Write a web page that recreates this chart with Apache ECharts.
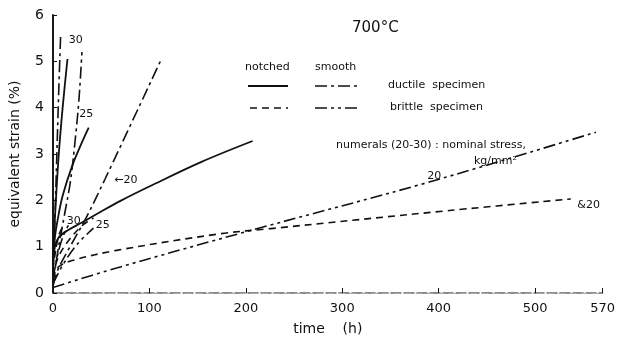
<!DOCTYPE html>
<html>
<head>
<meta charset="utf-8">
<script src="https://cdn.jsdelivr.net/npm/echarts@6/dist/echarts.min.js"></script>
<style>
  html, body { margin: 0; padding: 0; background: #fff; }
  #chart { width: 618px; height: 341px; }
</style>
</head>
<body>
<div id="chart"></div>
<script>
// creep curves at 700°C, [time h, strain %]
const notched20 = [[0, 0.55], [2, 1.0], [6, 1.2], [15, 1.35], [30, 1.52], [50, 1.76], [71, 2.0], [102, 2.32], [154, 2.83], [207, 3.28]];
const notched25 = [[0, 0.6], [2, 1.2], [5, 1.6], [10, 2.1], [20, 2.75], [30, 3.25], [37, 3.57]];
const notched30 = [[0, 0.7], [1, 1.2], [3, 2.0], [6, 3.0], [10, 4.0], [15, 5.05]];
const smooth20 = [[0, 0.15], [5, 0.5], [15, 0.9], [35, 1.65], [54, 2.46], [112, 5.03]];
const smooth25 = [[0, 0.2], [5, 0.9], [12, 1.7], [18, 2.4], [23, 3.3], [27, 4.2], [30, 5.2]];
const smooth30 = [[0, 0.3], [2, 1.6], [4, 3.0], [6, 4.4], [8, 5.6]];
const brittleNotched20 = [[0, 0.3], [5, 0.55], [20, 0.7], [66, 0.92], [174, 1.28], [226, 1.39], [411, 1.78], [537, 2.03]];
const brittleNotched25 = [[0, 0.35], [5, 0.75], [15, 1.1], [30, 1.45], [42, 1.62]];
const brittleNotched30 = [[0, 0.5], [3, 0.95], [7, 1.3], [12, 1.5]];
const brittleSmooth20 = [[0, 0.12], [66, 0.54], [205, 1.35], [391, 2.4], [563, 3.47]];
const brittleSmooth25 = [[0, 0.2], [10, 0.6], [25, 1.05], [42, 1.4]];
const brittleSmooth30 = [[0, 0.3], [4, 0.75], [10, 1.2], [17, 1.5]];

// stress numerals written next to the curves: [time, strain, text]
const stressNotes = [[24, 5.45, '30'], [35, 3.85, '25'], [76, 2.42, '←20'], [22, 1.55, '30'], [52, 1.45, '25'], [396, 2.52, '20'], [556, 1.88, '&20']];

const xTicks = [0, 100, 200, 300, 400, 500, 570];

const myChart = echarts.init(document.getElementById('chart'));

const FONT = 'DejaVu Sans';
const INK = '#111';

const styles = {
  ductileNotched: { type: 'solid', width: 1.8 },
  ductileSmooth: { type: [12, 4, 3, 4], width: 1.6 },
  brittleNotched: { type: [7, 5], width: 1.6 },
  brittleSmooth: { type: [12, 4, 3, 4, 3, 4], width: 1.6 },
};

function curve(name, data, style) {
  return {
    name: name,
    type: 'line',
    data: data,
    showSymbol: false,
    smooth: 0.35,
    silent: true,
    lineStyle: { color: INK, width: style.width, type: style.type },
  };
}

const option = {
  animation: false,
  grid: { left: 51, right: 14, top: 15, bottom: 46 },
  xAxis: [
    {
      type: 'value',
      min: 0,
      max: 570,
      interval: 100,
      axisLine: { lineStyle: { color: '#666', width: 1.5, type: [10, 3] } },
      axisTick: { inside: true, length: 5, lineStyle: { color: INK } },
      axisLabel: {
        color: INK,
        fontFamily: FONT,
        fontSize: 13,
        margin: 9,
        customValues: xTicks,
      },
      splitLine: { show: false },
      name: 'time    (h)',
      nameLocation: 'middle',
      nameGap: 29,
      nameTextStyle: { color: INK, fontFamily: FONT, fontSize: 14 },
    },
    {
      type: 'value',
      position: 'top',
      min: 0,
      max: 570,
      axisLine: { lineStyle: { color: '#aaa', width: 1.2, type: [6, 5] } },
      axisTick: { show: false },
      axisLabel: { show: false },
      splitLine: { show: false },
    },
  ],
  yAxis: [
    {
      type: 'value',
      min: 0,
      max: 6,
      interval: 1,
      axisLine: { show: true, lineStyle: { color: INK, width: 1.6 } },
      axisTick: { inside: true, length: 4, lineStyle: { color: INK } },
      axisLabel: { color: INK, fontFamily: FONT, fontSize: 14, margin: 9 },
      splitLine: { show: false },
      name: 'equivalent strain (%)',
      nameLocation: 'middle',
      nameGap: 31,
      nameTextStyle: { color: INK, fontFamily: FONT, fontSize: 14 },
    },
    {
      type: 'value',
      position: 'right',
      min: 0,
      max: 6,
      axisLine: { show: true, lineStyle: { color: INK, width: 1.6 } },
      axisTick: { show: false },
      axisLabel: { show: false },
      splitLine: { show: false },
    },
  ],
  graphic: [
    {
      type: 'text',
      left: 352,
      top: 21,
      style: { text: '700°C', font: '15px "DejaVu Sans"', fill: INK },
    },
    { type: 'text', left: 245, top: 62, style: { text: 'notched', font: '11px "DejaVu Sans"', fill: INK } },
    { type: 'text', left: 315, top: 62, style: { text: 'smooth', font: '11px "DejaVu Sans"', fill: INK } },
    { type: 'text', left: 388, top: 80, style: { text: 'ductile  specimen', font: '11px "DejaVu Sans"', fill: INK } },
    { type: 'text', left: 390, top: 102, style: { text: 'brittle  specimen', font: '11px "DejaVu Sans"', fill: INK } },
    { type: 'line', shape: { x1: 248, y1: 86, x2: 288, y2: 86 }, style: { stroke: INK, lineWidth: 1.8 } },
    { type: 'line', shape: { x1: 315, y1: 86, x2: 357, y2: 86 }, style: { stroke: INK, lineWidth: 1.4, lineDash: [12, 4, 3, 4] } },
    { type: 'line', shape: { x1: 250, y1: 108, x2: 288, y2: 108 }, style: { stroke: INK, lineWidth: 1.4, lineDash: [7, 5] } },
    { type: 'line', shape: { x1: 315, y1: 108, x2: 357, y2: 108 }, style: { stroke: INK, lineWidth: 1.4, lineDash: [12, 4, 3, 4, 3, 4] } },
    {
      type: 'text',
      left: 336,
      top: 140,
      style: { text: 'numerals (20-30) : nominal stress,', font: '11px "DejaVu Sans"', fill: INK },
    },
    {
      type: 'text',
      left: 474,
      top: 156,
      style: { text: 'kg/mm²', font: '11px "DejaVu Sans"', fill: INK },
    },
  ],
  series: [
    curve('notched 20', notched20, styles.ductileNotched),
    curve('notched 25', notched25, styles.ductileNotched),
    curve('notched 30', notched30, styles.ductileNotched),
    curve('smooth 20', smooth20, styles.ductileSmooth),
    curve('smooth 25', smooth25, styles.ductileSmooth),
    curve('smooth 30', smooth30, styles.ductileSmooth),
    curve('brittle notched 20', brittleNotched20, styles.brittleNotched),
    curve('brittle notched 25', brittleNotched25, styles.brittleNotched),
    curve('brittle notched 30', brittleNotched30, styles.brittleNotched),
    curve('brittle smooth 20', brittleSmooth20, styles.brittleSmooth),
    curve('brittle smooth 25', brittleSmooth25, styles.brittleSmooth),
    curve('brittle smooth 30', brittleSmooth30, styles.brittleSmooth),
    {
      name: 'stress',
      type: 'scatter',
      symbolSize: 1,
      silent: true,
      itemStyle: { opacity: 0 },
      data: stressNotes.map((n) => ({
        value: [n[0], n[1]],
        label: { formatter: n[2] },
      })),
      label: {
        show: true,
        position: [0, 0],
        align: 'center',
        verticalAlign: 'middle',
        color: INK,
        opacity: 1,
        fontFamily: FONT,
        fontSize: 11,
      },
    },
  ],
};

myChart.setOption(option);
</script>
</body>
</html>
